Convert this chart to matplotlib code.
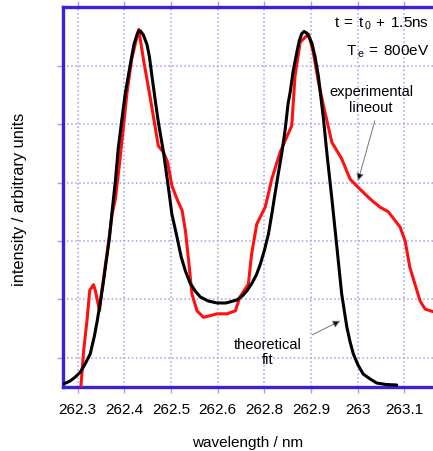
import numpy as np
import matplotlib
matplotlib.use("Agg")
from matplotlib import pyplot as plt

plt.rcParams['font.family'] = ['Liberation Sans', 'DejaVu Sans']

# theoretical fit (black)
fit_x = [262.270, 262.284, 262.295, 262.306, 262.316, 262.327, 262.336, 262.342,
         262.349, 262.355, 262.361, 262.368, 262.374, 262.381, 262.387, 262.395,
         262.402, 262.409, 262.415, 262.421, 262.427, 262.431, 262.435, 262.441,
         262.449, 262.454, 262.459, 262.466, 262.473, 262.484, 262.495, 262.502,
         262.513, 262.522, 262.531, 262.541, 262.552, 262.563, 262.580, 262.599,
         262.618, 262.641, 262.653, 262.663, 262.674, 262.683, 262.691, 262.700,
         262.709, 262.717, 262.723, 262.730, 262.738, 262.745, 262.751, 262.756,
         262.762, 262.770, 262.775, 262.780, 262.785, 262.791, 262.796, 262.802,
         262.809, 262.816, 262.827, 262.834, 262.845, 262.855, 262.866, 262.877,
         262.884, 262.891, 262.901, 262.912, 262.927, 262.941, 262.961, 262.984]
fit_y = [0.046, 0.098, 0.166, 0.252, 0.389, 0.561, 0.870, 1.127,
         1.470, 1.779, 2.139, 2.534, 3.014, 3.528, 4.077, 4.592,
         5.021, 5.347, 5.621, 5.878, 6.033, 6.101, 6.101, 6.033,
         5.861, 5.655, 5.347, 4.935, 4.540, 4.026, 3.391, 2.962,
         2.568, 2.225, 1.985, 1.779, 1.642, 1.539, 1.470, 1.436,
         1.436, 1.487, 1.556, 1.647, 1.779, 1.916, 2.088, 2.328,
         2.619, 2.997, 3.305, 3.648, 4.026, 4.420, 4.849, 5.072,
         5.415, 5.741, 5.930, 6.050, 6.093, 6.067, 5.998, 5.896,
         5.655, 5.329, 4.592, 4.026, 3.220, 2.448, 1.590, 1.024,
         0.767, 0.561, 0.372, 0.218, 0.132, 0.063, 0.038, 0.029]

# experimental lineout (red)
exp_x = [262.307, 262.313, 262.320, 262.326, 262.334, 262.338, 262.347, 262.352,
         262.363, 262.374, 262.381, 262.391, 262.406, 262.416, 262.431, 262.441,
         262.456, 262.473, 262.484, 262.493, 262.502, 262.513, 262.524, 262.531,
         262.538, 262.545, 262.556, 262.570, 262.599, 262.620, 262.638, 262.648,
         262.666, 262.673, 262.684, 262.702, 262.709, 262.716, 262.734, 262.759,
         262.766, 262.777, 262.795, 262.805, 262.816, 262.827, 262.845, 262.866,
         262.884, 262.905, 262.927, 262.948, 262.966, 262.991, 263.002, 263.012,
         263.023, 263.034, 263.045, 263.065]
exp_y = [0.0, 0.62, 1.13, 1.65, 1.75, 1.65, 1.30, 1.65,
         2.28, 2.96, 3.22, 3.91, 5.05, 5.62, 6.13, 5.62,
         4.94, 4.13, 4.02, 3.85, 3.45, 3.22, 3.02, 2.68,
         2.16, 1.59, 1.30, 1.19, 1.25, 1.25, 1.30, 1.54,
         1.76, 2.28, 2.79, 3.08, 3.31, 3.56, 4.02, 4.48,
         5.33, 5.91, 6.05, 5.74, 5.23, 4.82, 4.19, 3.91,
         3.56, 3.39, 3.22, 3.08, 3.00, 2.74, 2.50, 2.05,
         1.76, 1.47, 1.33, 1.28]

tick_pos = [262.3, 262.4, 262.5, 262.6, 262.7, 262.8, 262.9, 263.0]
tick_labels = ['262.3', '262.4', '262.5', '262.6', '262.8', '262.9', '263', '263.1']
ygrid = [0.5, 1.5, 2.5, 3.5, 4.5, 5.5]

spine_col = '#3b22d8'
grid_col = '#a49cf0'

fig = plt.figure(figsize=(4.33, 4.52), dpi=100)
ax = fig.add_axes([63 / 433, (452 - 387.7) / 452, 1 - 63 / 433, (387.7 - 8.3) / 452])

ax.plot(exp_x, exp_y, color='#ff1010', lw=2.2, zorder=3,
        solid_joinstyle='round', solid_capstyle='round')
ax.plot(fit_x, fit_y, color='black', lw=2.2, zorder=4,
        solid_joinstyle='round', solid_capstyle='round')

ax.set_xlim(262.2687, 263.0617)
ax.set_ylim(0, 6.508)
ax.set_xticks(tick_pos)
ax.set_xticklabels(tick_labels, fontsize=11)
ax.set_yticks(ygrid)
ax.set_yticklabels([])
ax.tick_params(axis='both', direction='out', length=4, width=1, color=grid_col,
               top=True, pad=7)
ax.grid(True, color=grid_col, linestyle=':', linewidth=1.1)

for side in ['left', 'bottom', 'top']:
    ax.spines[side].set_color(spine_col)
    ax.spines[side].set_linewidth(2.4)
ax.spines['right'].set_visible(False)

ax.set_xlabel('wavelength / nm', fontsize=11, labelpad=14)
fig.text(20 / 433, 1 - 199 / 452, 'intensity / arbitrary units', rotation=90,
         fontsize=11.8, ha='center', va='center')

ax.text(0.99, 0.96, r'$\mathregular{t\,=\,t_{\,0}\,+\,1.5ns}$', transform=ax.transAxes,
        ha='right', va='center', fontsize=11)
ax.text(0.99, 0.885, r'$\mathregular{T_{\,e}\,=\,800eV}$', transform=ax.transAxes,
        ha='right', va='center', fontsize=11)

ax.text(262.929, 4.94, 'experimental\nlineout', ha='center', va='center',
        fontsize=10.5, linespacing=1.15)
ax.text(262.708, 0.60, 'theoretical\nfit', ha='center', va='center',
        fontsize=10.5, linespacing=1.1)

arrow = dict(arrowstyle='-|>', ec='#777777', fc='black', lw=0.7,
             mutation_scale=11, shrinkA=0, shrinkB=0)
ax.annotate('', xy=(262.901, 3.53), xytext=(262.937, 4.56), arrowprops=arrow)
ax.annotate('', xy=(262.863, 1.13), xytext=(262.803, 0.89), arrowprops=arrow)

fig.savefig('out.png', dpi=100)
